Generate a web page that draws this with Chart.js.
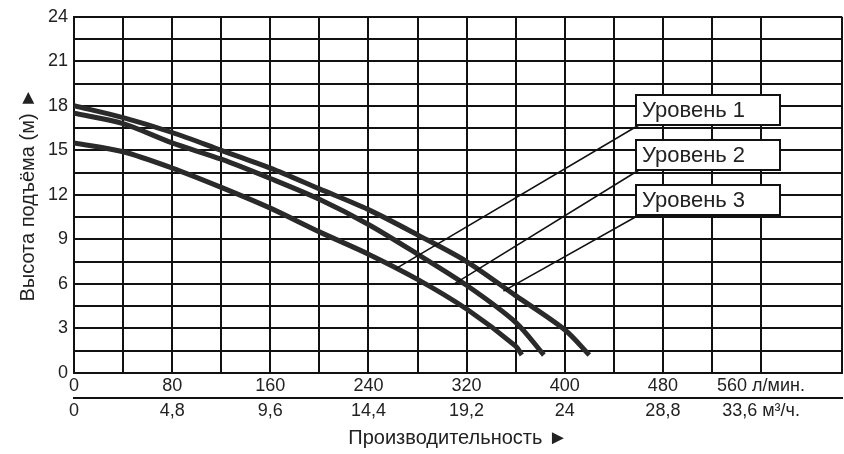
<!DOCTYPE html>
<html><head><meta charset="utf-8">
<script src="https://cdn.jsdelivr.net/npm/chart.js@4/dist/chart.umd.min.js"></script>
<style>html,body{margin:0;padding:0;background:#fff}#w{width:844px;height:454px}</style>
</head><body><div id="w"><canvas id="c"></canvas></div>
<script>
const flow = [0, 40, 80, 120, 160, 200, 240, 280, 320, 360, 400];
const level1 = [18, 17.2, 16.2, 15.0, 13.8, 12.4, 11.0, 9.3, 7.5, 5.2, 2.9];
const level1End = [420, 1.2];
const level2 = [17.5, 16.8, 15.5, 14.4, 13.1, 11.7, 10.0, 8.0, 5.9, 3.4];
const level2End = [383, 1.2];
const level3 = [15.5, 14.9, 13.8, 12.5, 11.1, 9.5, 8.0, 6.3, 4.3, 1.8];
const level3End = [365, 1.2];
const seriesNames = ['Уровень 1', 'Уровень 2', 'Уровень 3'];
const yTicks = [0, 3, 6, 9, 12, 15, 18, 21, 24];

function pts(vals, end) {
  const p = vals.map((v, i) => ({x: flow[i], y: v}));
  p.push({x: end[0], y: end[1]});
  return p;
}
const F = 'Liberation Sans, Arial, sans-serif';
const ds = (name, data) => ({label: name, data, borderColor: '#2a2a2a', borderWidth: 5,
  pointRadius: 0, tension: 0.3, fill: false});

const labelPlugin = {
  id: 'labels',
  afterDatasetsDraw(chart) {
    const ctx = chart.ctx;
    const targets = [[262, 7.0], [310, 6.0], [350, 5.5]];
    const boxes = [[636, 95], [636, 140], [636, 185]];
    ctx.save();
    seriesNames.forEach((n, i) => {
      const [bx, by] = boxes[i];
      const tx = chart.scales.x.getPixelForValue(targets[i][0]);
      const ty = chart.scales.y.getPixelForValue(targets[i][1]);
      ctx.strokeStyle = '#111'; ctx.lineWidth = 1.5;
      ctx.beginPath(); ctx.moveTo(bx + 3, by + 30); ctx.lineTo(tx, ty); ctx.stroke();
      ctx.fillStyle = '#fff';
      ctx.fillRect(bx, by, 144, 30);
      ctx.lineWidth = 2;
      ctx.strokeRect(bx, by, 144, 30);
      ctx.fillStyle = '#222'; ctx.font = '22px ' + F;
      ctx.textBaseline = 'middle'; ctx.textAlign = 'left';
      ctx.fillText(n, bx + 6, by + 16);
    });
    ctx.restore();
  }
};

new Chart(document.getElementById('c'), {
  type: 'line',
  data: {datasets: [ds(seriesNames[0], pts(level1, level1End)), ds(seriesNames[1], pts(level2, level2End)), ds(seriesNames[2], pts(level3, level3End))]},
  options: {
    responsive: true, maintainAspectRatio: false, animation: false,
    layout: {padding: {top: 15, right: 0, left: 12, bottom: 0}},
    plugins: {legend: {display: false}, tooltip: {enabled: false}},
    scales: {
      x: {type: 'linear', min: 0, max: 626, position: 'bottom',
        grid: {color: '#111', lineWidth: 2, drawTicks: false},
        border: {color: '#111', width: 2},
        ticks: {stepSize: 40, autoSkip: false, maxRotation: 0, padding: 2, color: '#222', font: {size: 18, family: F},
          callback: v => (v % 80 === 0 && v <= 560) ? (v === 560 ? '560 л/мин.' : String(v)) : ''}},
      x2: {type: 'linear', min: 0, max: 626, position: 'bottom',
        grid: {display: false, drawTicks: false},
        border: {color: '#111', width: 2},
        ticks: {stepSize: 80, autoSkip: false, maxRotation: 0, padding: 2, color: '#222', font: {size: 18, family: F},
          callback: v => v > 560 ? '' : (v === 560 ? '33,6 м³/ч.' : String(+(v * 0.06).toFixed(1)).replace('.', ','))},
        title: {display: true, text: 'Производительность ►', color: '#222', font: {size: 20, family: F}, padding: {top: 2}}},
      y: {min: 0, max: 24,
        grid: {color: '#111', lineWidth: 2, drawTicks: false},
        border: {color: '#111', width: 2},
        afterBuildTicks: s => { s.ticks = []; for (let v = 0; v <= 24; v += 1.5) s.ticks.push({value: v}); },
        ticks: {autoSkip: false, padding: 6, color: '#222', font: {size: 18, family: F},
          callback: v => yTicks.includes(v) ? String(v) : ''},
        title: {display: true, text: 'Высота подъёма (м) ►', color: '#222', font: {size: 20, family: F}, padding: {bottom: 2}}}
    }
  },
  plugins: [labelPlugin]
});
</script></body></html>
